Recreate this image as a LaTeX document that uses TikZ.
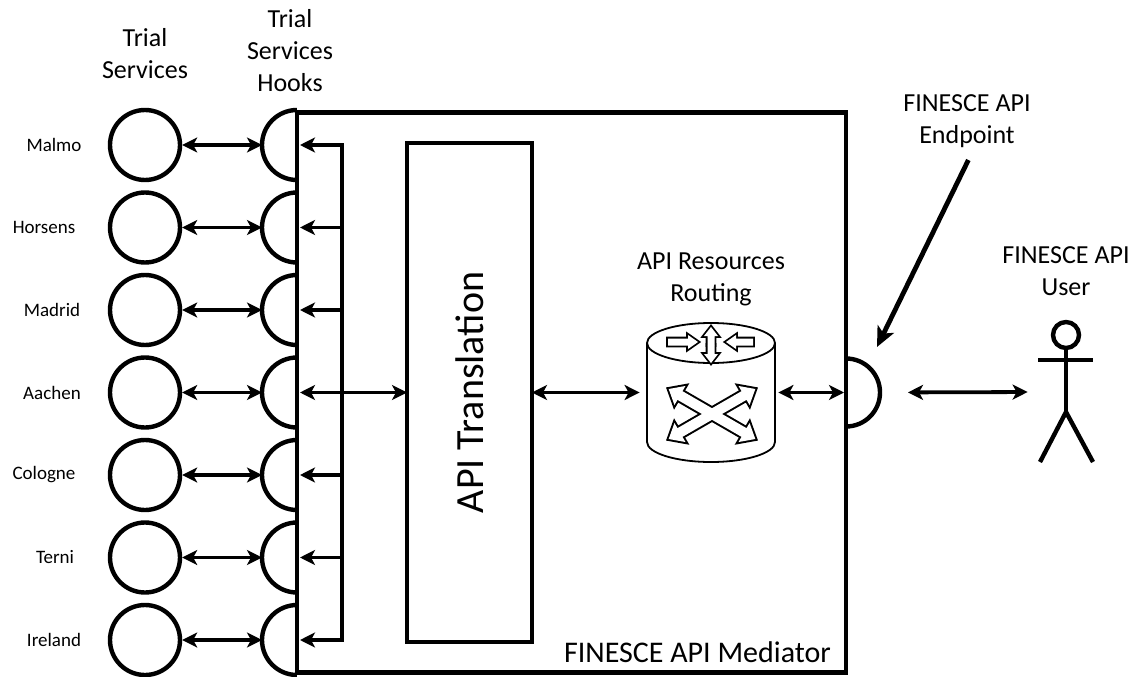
\documentclass[tikz,border=0pt]{standalone}
\usepackage{fontspec}
\setmainfont{Carlito}
\usetikzlibrary{arrows.meta}

\begin{document}
\begin{tikzpicture}[x=0.5pt, y=0.5pt, >={Stealth[length=7.5pt,width=7.5pt,inset=2pt]},
  txt/.style={align=center, font=\fontsize{13}{16}\selectfont},
  city/.style={font=\fontsize{9.5}{11}\selectfont},
  svc/.style={circle, draw, line width=2.2pt, minimum size=35pt, inner sep=0pt},
  hook/.style={line width=2.2pt},
  link/.style={line width=1.9pt},
  pointer/.style={line width=2.4pt, -{Stealth[length=10pt,width=9pt,inset=2.5pt]}},
  thinline/.style={line width=0.9pt},
  figure/.style={line width=2.2pt},
  pics/harrow/.style args={#1/#2/#3/#4}{code={\path[pic actions] (0,-#2) -- (#1-#4,-#2) -- (#1-#4,-#3) -- (#1,0) -- (#1-#4,#3) -- (#1-#4,#2) -- (0,#2) -- cycle;}}]
\useasboundingbox (0,0) rectangle (1134,676);
\node[draw, line width=2.4pt, minimum width=274.5pt, minimum height=280pt, outer sep=0pt, inner sep=0pt] (med) at (571.5,283.5) {};
\node[anchor=east, font=\fontsize{15}{18}\selectfont] at (838,24) {FINESCE API Mediator};
\node[txt] at (145,622) {Trial\\Services};
\node[txt] at (290,625) {Trial\\Services\\Hooks};
\foreach \i/\city/\cx in {0/Malmo/54, 1/Horsens/44, 2/Madrid/52, 3/Aachen/52, 4/Cologne/44, 5/Terni/55, 6/Ireland/54} {
  \node[svc] (svc\i) at (145,531-82.5*\i) {};
  \node[city] at (\cx,531-82.5*\i) {\city};
  \draw[hook] (297,566-82.5*\i) arc[start angle=90, end angle=270, radius=35];
  \coordinate (hook\i) at (262,531-82.5*\i);
  \coordinate (edge\i) at (300,531-82.5*\i);
  \coordinate (bus\i) at (342,531-82.5*\i);
  \draw[link,<->] (svc\i) -- (hook\i);
}
\draw[link, line cap=rect] (bus0) -- (bus6);
\foreach \i in {0,1,2,4,5,6} \draw[link,->] (bus\i) -- (edge\i);
\node[draw, line width=1.9pt, minimum width=62.5pt, minimum height=249.5pt, outer sep=0pt] (trans) at (469.5,283.5) {};
\node[rotate=90, font=\fontsize{20}{24}\selectfont] at (trans) {API Translation};
\draw[link,<->] (edge3) -- (trans.west);
% router
\node[minimum width=64pt, minimum height=69.5pt] (router) at (711,283.5) {};
\node[txt] at (711,397) {API Resources\\Routing};
\draw[thinline] (647,333) -- (647,234) arc[start angle=180, end angle=360, x radius=64, y radius=20] -- (775,333);
\draw[thinline] (711,333) ellipse[x radius=64, y radius=20];
\foreach \a in {30,150,210,330} \pic[rotate=\a, draw, line width=2pt] at (712,262) {harrow=50/5/11/13};
\foreach \a in {30,150,210,330} \pic[rotate=\a, fill=white] at (712,262) {harrow=50/5/11/13};
\pic[draw, line width=1.8pt] at (668,334) {harrow=30/3.5/7/10};
\pic[fill=white] at (668,334) {harrow=30/3.5/7/10};
\pic[rotate=180, draw, line width=1.8pt] at (753,334) {harrow=27/3.5/7/10};
\pic[rotate=180, fill=white] at (753,334) {harrow=27/3.5/7/10};
\foreach \a in {90,270} \pic[rotate=\a, draw, line width=1.8pt] at (711,331) {harrow=18/3.5/7/9};
\foreach \a in {90,270} \pic[rotate=\a, fill=white] at (711,331) {harrow=18/3.5/7/9};
\draw[link,<->,shorten >=3.5pt] (trans.east) -- (router.west);
\draw[link,<->,shorten <=1.5pt,shorten >=1pt] (router.east) -- (med.east |- router.east);
% endpoint and user
\draw[hook] (846,317.5) arc[start angle=90, end angle=-90, radius=34];
\coordinate (ep) at (880,283.5);
\coordinate (eptip) at (877,329);
\node[txt] (eplabel) at (967,555) {FINESCE API\\Endpoint};
\draw[pointer, shorten <=3pt] ([xshift=2pt]eplabel.south) -- (eptip);
\node[minimum width=27.5pt, minimum height=70pt] (user) at (1065.5,284) {};
\node[txt] at (1066,405) {FINESCE API\\User};
\draw[figure] (1066,341) circle[radius=13];
\draw[figure] (1038,316) -- (1093,316);
\draw[figure] (1066,328) -- (1066,264);
\draw[figure] (1040,214) -- (1066,264) -- (1093,214);
\draw[link,<->,shorten <=14pt,shorten >=5pt] (ep) -- (user.west);
\end{tikzpicture}
\end{document}
